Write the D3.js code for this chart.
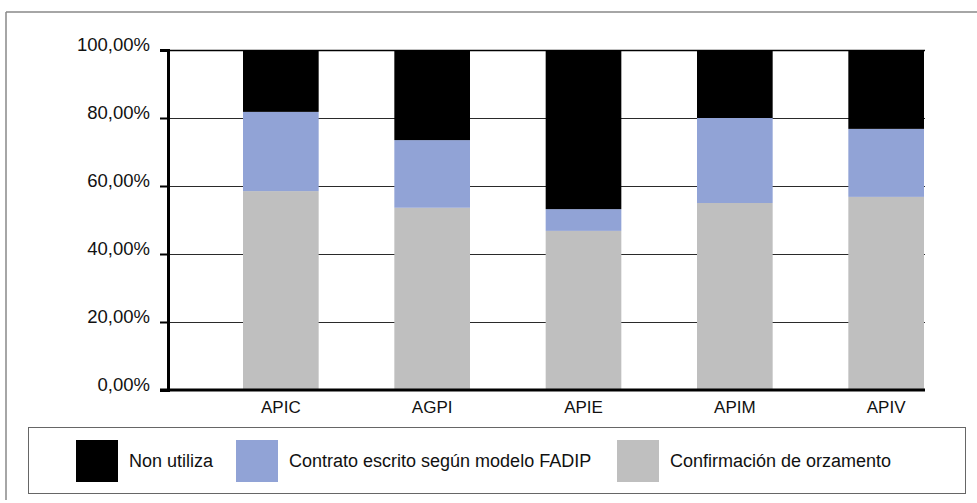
<!DOCTYPE html>
<html><head><meta charset="utf-8">
<script src="https://cdn.jsdelivr.net/npm/d3@7"></script>
<style>body{margin:0;background:#fff}svg{display:block}text{font-family:"Liberation Sans",Arial,sans-serif;fill:#111}</style>
</head><body><svg id="c" width="977" height="503"></svg>
<script>
const categories = ["APIC","AGPI","APIE","APIM","APIV"];
const seriesNames = ["Confirmación de orzamento","Contrato escrito según modelo FADIP","Non utiliza"];
const confirmacion = [58.5, 53.6, 46.8, 55.0, 56.8];
const contrato = [23.3, 19.9, 6.4, 25.0, 20.0];
const nonUtiliza = [18.2, 26.5, 46.8, 20.0, 23.2];
const yTicks = [0,20,40,60,80,100];
const legendOrder = ["Non utiliza","Contrato escrito según modelo FADIP","Confirmación de orzamento"];
const colors = {"Non utiliza":"#000000","Contrato escrito según modelo FADIP":"#91a3d6","Confirmación de orzamento":"#bfbfbf"};

const svg = d3.select("#c");
// outer frame
svg.append("line").attr("x1",6).attr("x2",977).attr("y1",12).attr("y2",12).attr("stroke","#888").attr("stroke-width",1.5);
svg.append("line").attr("x1",6).attr("x2",6).attr("y1",12).attr("y2",500).attr("stroke","#888").attr("stroke-width",1.5);

const plotL = 168, plotR = 925;
const y = d3.scaleLinear().domain([0,100]).range([390,50]);
const x = d3.scaleBand().domain(categories).range([243,924]).paddingInner(0.5).paddingOuter(0);

// gridlines
svg.append("g").selectAll("line").data(yTicks.filter(t=>t>0)).join("line")
  .attr("x1",plotL).attr("x2",plotR).attr("y1",d=>Math.round(y(d))+0.5).attr("y2",d=>Math.round(y(d))+0.5)
  .attr("stroke",d=>d===100?"#000":"#2a2a2a").attr("stroke-width",d=>d===100?1.5:1.2);

// stacked data
const rows = categories.map((c,i)=>({cat:c,"Confirmación de orzamento":confirmacion[i],"Contrato escrito según modelo FADIP":contrato[i],"Non utiliza":nonUtiliza[i]}));
const stack = d3.stack().keys(seriesNames)(rows);
svg.append("g").selectAll("g").data(stack).join("g").attr("fill",d=>colors[d.key])
  .selectAll("rect").data(d=>d).join("rect")
  .attr("x",d=>x(d.data.cat)).attr("width",x.bandwidth())
  .attr("y",d=>y(d[1])).attr("height",d=>y(d[0])-y(d[1]));

// y axis
const yAxis = d3.axisLeft(y).tickValues(yTicks).tickSize(8).tickPadding(10)
  .tickFormat(d=>d.toFixed(2).replace(".",",")+"%");
const ga = svg.append("g").attr("transform",`translate(${plotL},0)`).call(yAxis);
ga.select(".domain").attr("stroke","#000").attr("stroke-width",3);
ga.selectAll(".tick line").attr("stroke","#000").attr("stroke-width",2);
ga.selectAll(".tick text").style("font-size","18.5px").attr("fill","#111").attr("dy","0.05em");
ga.selectAll(".tick text").attr("x",-18);

// x axis baseline
svg.append("line").attr("x1",160).attr("x2",plotR).attr("y1",390).attr("y2",390).attr("stroke","#000").attr("stroke-width",3);
// x labels
svg.append("g").selectAll("text").data(categories).join("text")
  .attr("x",d=>x(d)+x.bandwidth()/2).attr("y",413).attr("text-anchor","middle")
  .style("font-size","17px").text(d=>d);

// legend
svg.append("rect").attr("x",28.5).attr("y",427.5).attr("width",937).attr("height",66).attr("fill","none").attr("stroke","#666").attr("stroke-width",1);
const legX = [76,236,617];
const lg = svg.append("g").selectAll("g").data(legendOrder).join("g")
  .attr("transform",(d,i)=>`translate(${legX[i]},440)`);
lg.append("rect").attr("width",42).attr("height",42).attr("fill",d=>colors[d]);
lg.append("text").attr("x",53).attr("y",27).style("font-size",'18px').text(d=>d);
</script></body></html>
